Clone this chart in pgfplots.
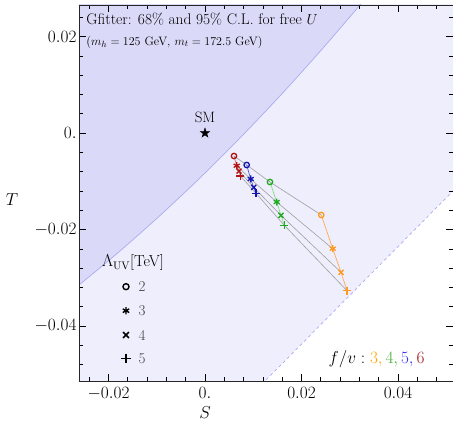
\documentclass[border=0pt]{standalone}
\usepackage{pgfplots}
\pgfplotsset{compat=1.18}
\usetikzlibrary{plotmarks}

\definecolor{cl95}{HTML}{EEEEFC}
\definecolor{cl68}{HTML}{DADAF8}
\definecolor{clb}{HTML}{AAAAF2}
\definecolor{mor}{HTML}{FF9A20}
\definecolor{mgr}{HTML}{1FAA1F}
\definecolor{mbl}{HTML}{1414B0}
\definecolor{mrd}{HTML}{B01414}
\definecolor{lor}{HTML}{FFAA55}
\definecolor{lgr}{HTML}{80DD80}
\definecolor{lbl}{HTML}{5858D8}
\definecolor{lrd}{HTML}{D87070}
\definecolor{tor}{HTML}{FFA500}
\definecolor{tgr}{HTML}{44AA33}
\definecolor{tbl}{HTML}{3030F0}
\definecolor{trd}{HTML}{A01818}

\pgfdeclareplotmark{fstar}{%
  \pgfpathmoveto{\pgfpointpolar{90}{\pgfplotmarksize}}%
  \pgfpathlineto{\pgfpointpolar{126}{0.382\pgfplotmarksize}}%
  \pgfpathlineto{\pgfpointpolar{162}{\pgfplotmarksize}}%
  \pgfpathlineto{\pgfpointpolar{198}{0.382\pgfplotmarksize}}%
  \pgfpathlineto{\pgfpointpolar{234}{\pgfplotmarksize}}%
  \pgfpathlineto{\pgfpointpolar{270}{0.382\pgfplotmarksize}}%
  \pgfpathlineto{\pgfpointpolar{306}{\pgfplotmarksize}}%
  \pgfpathlineto{\pgfpointpolar{342}{0.382\pgfplotmarksize}}%
  \pgfpathlineto{\pgfpointpolar{18}{\pgfplotmarksize}}%
  \pgfpathlineto{\pgfpointpolar{54}{0.382\pgfplotmarksize}}%
  \pgfpathclose
  \pgfusepathqfillstroke
}

\pgfplotsset{
 mo/.style={only marks, mark=o, mark size=2.7pt, line width=1.3pt},
 ma/.style={only marks, mark=asterisk, mark size=3.5pt, line width=1.3pt},
 mx/.style={only marks, mark=x, mark size=3.5pt, line width=1.4pt},
 mp/.style={only marks, mark=+, mark size=4pt, line width=1.4pt},
 lo/.style={only marks, mark=o, mark size=3pt, line width=1.4pt},
 la/.style={only marks, mark=asterisk, mark size=3.7pt, line width=1.4pt},
 lx/.style={only marks, mark=x, mark size=4.2pt, line width=1.5pt},
 lp/.style={only marks, mark=+, mark size=4.8pt, line width=1.5pt},
}

\begin{document}
\begin{tikzpicture}
\begin{axis}[
 name=ax,
 at={(0,0)}, anchor=south west,
 scale only axis, width=374pt, height=376pt,
 xmin=-0.02611, xmax=0.0514, ymin=-0.0514, ymax=0.02653,
 xtick={-0.02,0,0.02,0.04}, xticklabels={$-0.02$,$0.$,$0.02$,$0.04$},
 ytick={-0.04,-0.02,0,0.02}, yticklabels={$-0.04$,$-0.02$,$0.$,$0.02$},
 minor xtick={-0.024,-0.016,-0.012,-0.008,-0.004,0.004,0.008,0.012,0.016,0.024,0.028,0.032,0.036,0.044,0.048},
 minor ytick={-0.048,-0.044,-0.036,-0.032,-0.028,-0.024,-0.016,-0.012,-0.008,-0.004,0.004,0.008,0.012,0.016,0.024},
 scaled ticks=false,
 tick align=inside,
 major tick length=7pt, minor tick length=4pt,
 tick style={black, line width=0.6pt},
 axis line style={line width=0.6pt, black!85},
 tick label style={font=\fontsize{19}{23}\selectfont},
 xticklabel style={yshift=-3pt},
 yticklabel style={xshift=1pt},
 axis on top,
]
% 95% region
\addplot[fill=cl95, draw=none] coordinates {(-0.035,-0.06) (0.00393,-0.06) (0.06,-0.00332) (0.06,0.035) (-0.035,0.035)} -- cycle;
\addplot[clb, dashed, line width=0.7pt] coordinates {(0.00393,-0.06) (0.06,-0.00332)};
% 68% region
\addplot[fill=cl68, draw=none] coordinates {(-0.03005,-0.03461) (-0.02611,-0.03150) (-0.01762,-0.02446) (-0.00933,-0.01710) (-0.00104,-0.00931) (0.00705,-0.00124) (0.01554,0.00769) (0.02383,0.01689) (0.03212,0.02653) (0.03627,0.03152) (-0.035,0.03152) (-0.035,-0.03461)} -- cycle;
\addplot[clb, line width=0.7pt, smooth] coordinates {(-0.03005,-0.03461) (-0.02611,-0.03150) (-0.01762,-0.02446) (-0.00933,-0.01710) (-0.00104,-0.00931) (0.00705,-0.00124) (0.01554,0.00769) (0.02383,0.01689) (0.03212,0.02653) (0.03627,0.03152)};

% gray lines: same Lambda across f/v
\addplot[gray!75, line width=0.6pt] coordinates {(0.00601,-0.00477) (0.00864,-0.00663) (0.01347,-0.01016) (0.02410,-0.01699)};
\addplot[gray!75, line width=0.6pt] coordinates {(0.00657,-0.00678) (0.00947,-0.00953) (0.01486,-0.01430) (0.02647,-0.02398)};
\addplot[gray!75, line width=0.6pt] coordinates {(0.00705,-0.00788) (0.01009,-0.01126) (0.01575,-0.01706) (0.02819,-0.02887)};
\addplot[gray!75, line width=0.6pt] coordinates {(0.00732,-0.00891) (0.01057,-0.01250) (0.01644,-0.01913) (0.02943,-0.03268)};

% colored lines: same f/v
\addplot[lrd, line width=0.7pt] coordinates {(0.00601,-0.00477) (0.00657,-0.00678) (0.00705,-0.00788) (0.00732,-0.00891)};
\addplot[lbl, line width=0.7pt] coordinates {(0.00864,-0.00663) (0.00947,-0.00953) (0.01009,-0.01126) (0.01057,-0.01250)};
\addplot[lgr, line width=0.7pt] coordinates {(0.01347,-0.01016) (0.01486,-0.01430) (0.01575,-0.01706) (0.01644,-0.01913)};
\addplot[lor, line width=0.7pt] coordinates {(0.02410,-0.01699) (0.02647,-0.02398) (0.02819,-0.02887) (0.02943,-0.03268)};

% markers f/v=6
\addplot[mo, mrd] coordinates {(0.00601,-0.00477)};
\addplot[ma, mrd] coordinates {(0.00657,-0.00678)};
\addplot[mx, mrd] coordinates {(0.00705,-0.00788)};
\addplot[mp, mrd] coordinates {(0.00732,-0.00891)};
% f/v=5
\addplot[mo, mbl] coordinates {(0.00864,-0.00663)};
\addplot[ma, mbl] coordinates {(0.00947,-0.00953)};
\addplot[mx, mbl] coordinates {(0.01009,-0.01126)};
\addplot[mp, mbl] coordinates {(0.01057,-0.01250)};
% f/v=4
\addplot[mo, mgr] coordinates {(0.01347,-0.01016)};
\addplot[ma, mgr] coordinates {(0.01486,-0.01430)};
\addplot[mx, mgr] coordinates {(0.01575,-0.01706)};
\addplot[mp, mgr] coordinates {(0.01644,-0.01913)};
% f/v=3
\addplot[mo, mor] coordinates {(0.02410,-0.01699)};
\addplot[ma, mor] coordinates {(0.02647,-0.02398)};
\addplot[mx, mor] coordinates {(0.02819,-0.02887)};
\addplot[mp, mor] coordinates {(0.02943,-0.03268)};

% SM
\addplot[only marks, mark=fstar, mark size=5pt, black] coordinates {(0,0)};
\node[font=\fontsize{15}{18}\selectfont] at (axis cs:0,0.00332) {SM};

% legend
\addplot[lo, black] coordinates {(-0.01637,-0.03185)};
\addplot[la, black] coordinates {(-0.01637,-0.03683)};
\addplot[lx, black] coordinates {(-0.01637,-0.04187)};
\addplot[lp, black] coordinates {(-0.01637,-0.04670)};
\node[font=\fontsize{16}{19}\selectfont] at (axis cs:-0.01492,-0.02694) {$\Lambda_{\mathrm{UV}}$[TeV]};
\node[anchor=west, text=black!75, font=\fontsize{15}{18}\selectfont] at (axis cs:-0.01451,-0.03185) {2};
\node[anchor=west, text=black!75, font=\fontsize{15}{18}\selectfont] at (axis cs:-0.01451,-0.03683) {3};
\node[anchor=west, text=black!75, font=\fontsize{15}{18}\selectfont] at (axis cs:-0.01451,-0.04187) {4};
\node[anchor=west, text=black!75, font=\fontsize{15}{18}\selectfont] at (axis cs:-0.01451,-0.04670) {5};

% texts
\node[anchor=west, font=\fontsize{15.4}{18}\selectfont] at (axis cs:-0.0253,0.02363) {Gfitter: 68\% and 95\% C.L. for free $U$};
\node[anchor=west, font=\fontsize{12.2}{14}\selectfont] at (axis cs:-0.0253,0.01886) {($m_h=125$ GeV, $m_t=172.5$ GeV)};
\node[anchor=east, font=\fontsize{18.5}{22}\selectfont] at (axis cs:0.04622,-0.04684) {$f/v:{\color{tor}3,}\,{\color{tgr}4,}\,{\color{tbl}5,}\,{\color{trd}6}$};
\end{axis}
\node[font=\fontsize{19}{23}\selectfont] at ([shift={(-67pt,181pt)}]ax.south west) {$T$};
\node[font=\fontsize{19}{23}\selectfont] at ([shift={(126pt,-32pt)}]ax.south west) {$S$};
\pgfresetboundingbox
\path ([shift={(-79pt,-40pt)}]ax.south west) rectangle ([shift={(0pt,5pt)}]ax.north east);
\end{tikzpicture}
\end{document}
